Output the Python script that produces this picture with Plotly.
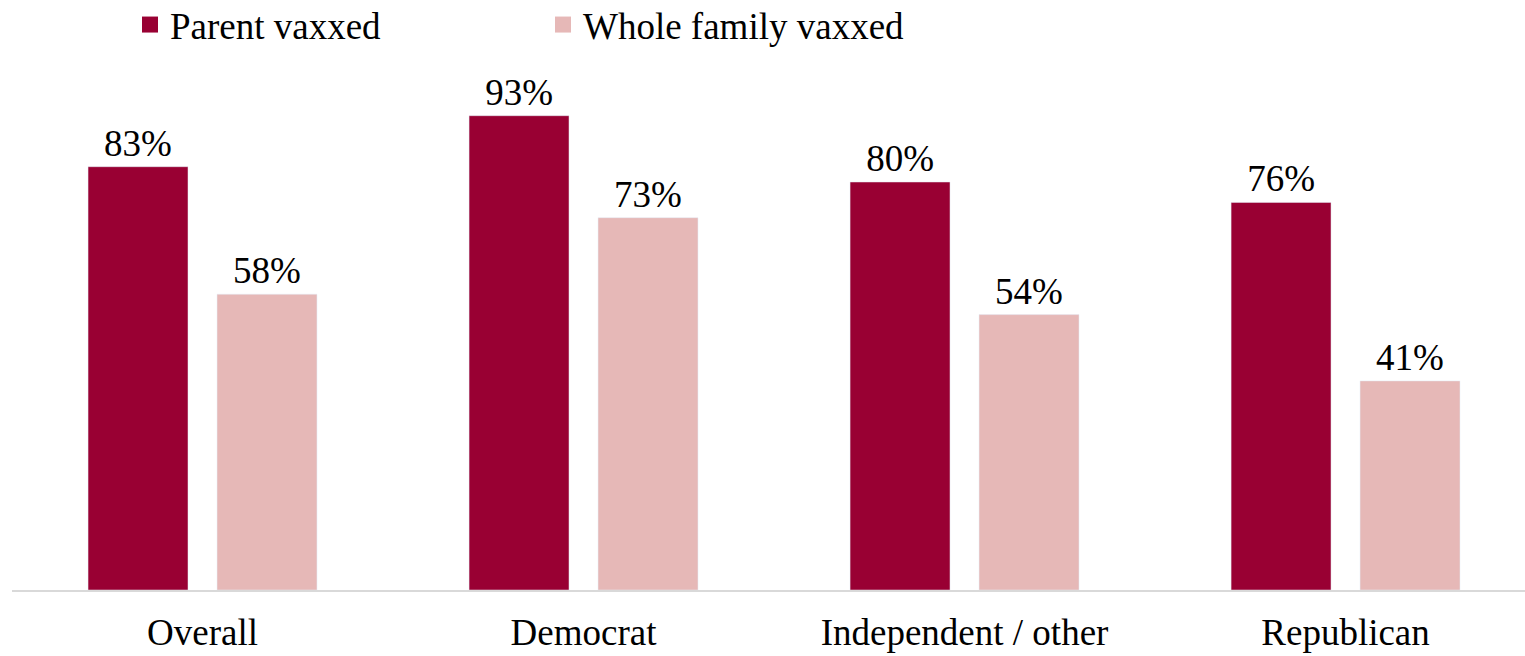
import plotly.graph_objects as go

categories = ["Overall", "Democrat", "Independent / other", "Republican"]
parent_vaxxed = [83, 93, 80, 76]
family_vaxxed = [58, 73, 54, 41]
series_names = ["Parent vaxxed", "Whole family vaxxed"]
colors = ["#990033", "#E6B8B7"]

FONT = "Liberation Serif, serif"

fig = go.Figure()
for name, vals, col in zip(series_names, [parent_vaxxed, family_vaxxed], colors):
    fig.add_trace(go.Bar(name=name, x=categories, y=vals,
                         marker=dict(color=col), showlegend=False,
                         text=[f"{v}%" for v in vals], textposition="outside",
                         textfont=dict(size=37, color="black", family=FONT),
                         cliponaxis=False))

# legend entries with bigger square swatches
for name, col in zip(series_names, colors):
    fig.add_trace(go.Scatter(name=name, x=[None], y=[None], mode="markers",
                             marker=dict(symbol="square", size=18, color=col)))

fig.update_layout(
    width=1525, height=656,
    plot_bgcolor="white", paper_bgcolor="white",
    font=dict(family=FONT, size=37, color="black"),
    barmode="group", bargap=0.323, bargroupgap=0.225,
    margin=dict(l=12, r=0, t=80, b=66, autoexpand=False),
    showlegend=True,
    legend=dict(orientation="h", xref="container", yref="container",
                x=130 / 1525, y=1 - 25 / 656, xanchor="left", yanchor="middle",
                font=dict(size=37), entrywidth=368, entrywidthmode="pixels",
                itemwidth=30, bgcolor="rgba(0,0,0,0)"),
    xaxis=dict(showline=True, linecolor="#D9D9D9", linewidth=2,
               ticks="", tickfont=dict(size=37), range=[-0.5, 3.471],
               automargin=False, ticklabelstandoff=9),
    yaxis=dict(range=[0, 100], visible=False, showgrid=False, automargin=False),
)

# drop the default page margin so the figure sits at the window's corner
fig.write_html("out.html", config={"displayModeBar": False},
               post_script="document.body.style.margin='0';")
